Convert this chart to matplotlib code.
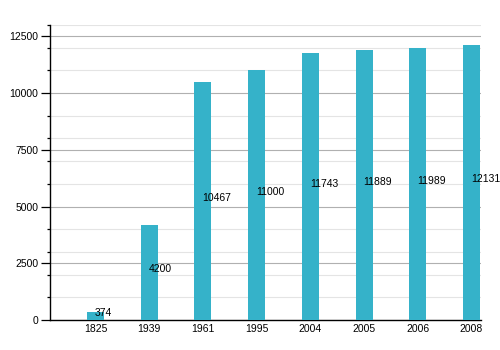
import matplotlib
matplotlib.use("Agg")
import matplotlib.pyplot as plt
from matplotlib.ticker import MultipleLocator

years = ["1825", "1939", "1961", "1995", "2004", "2005", "2006", "2008"]
population = [374, 4200, 10467, 11000, 11743, 11889, 11989, 12131]

plt.rcParams['font.family'] = ['Liberation Sans', 'DejaVu Sans']

fig = plt.figure(figsize=(5, 3.5), dpi=100)
ax = fig.add_axes([0.1, 0.0857, 0.862, 0.843])

x = list(range(len(years)))
ax.bar(x, population, width=0.317, color="#35b2c9", zorder=3)

for xi, v in zip(x, population):
    ax.text(xi - 0.01, v / 2, str(v), ha="left", va="baseline", fontsize=7.5,
            color="black", zorder=4)

ax.set_xlim(-0.847, 7.177)
ax.set_ylim(0, 13000)
ax.set_xticks(x)
ax.set_xticklabels(years)
ax.yaxis.set_major_locator(MultipleLocator(2500))
ax.yaxis.set_minor_locator(MultipleLocator(1000))

ax.grid(axis="y", which="major", color="#b0b0b0", linewidth=0.8, zorder=1)
ax.grid(axis="y", which="minor", color="#e4e4e4", linewidth=0.8, zorder=1)

for s in ["top", "right"]:
    ax.spines[s].set_visible(False)
for s in ["left", "bottom"]:
    ax.spines[s].set_color("black")
    ax.spines[s].set_linewidth(1.0)

ax.tick_params(axis="x", length=0, pad=3, labelsize=7.5)
ax.tick_params(axis="y", which="major", length=6.5, width=0.9, pad=2, labelsize=7.5)
ax.tick_params(axis="y", which="minor", length=2.2, width=0.9)

fig.savefig("out.png", dpi=100)
